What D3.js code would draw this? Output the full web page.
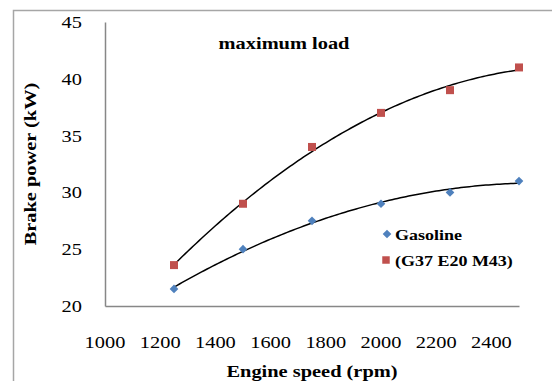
<!DOCTYPE html>
<html>
<head>
<meta charset="utf-8">
<script src="https://cdn.jsdelivr.net/npm/d3@7"></script>
<style>
  body { margin: 0; background: #fff; }
  text { font-family: "Liberation Serif", "Times New Roman", serif; fill: #000; }
</style>
</head>
<body>
<script>
// engine speed (rpm) for both series
var speeds = [1250, 1500, 1750, 2000, 2250, 2500];
// brake power (kW)
var gasoline = [21.5, 25, 27.5, 29, 30, 31];
var blend = [23.6, 29, 34, 37, 39, 41];
var seriesNames = ["Gasoline", "(G37 E20 M43)"];
var xTicks = [1000, 1200, 1400, 1600, 1800, 2000, 2200, 2400];
var yTicks = [20, 25, 30, 35, 40, 45];

var w = 552, h = 381;
var stretch = 1.2; // text in the picture is a bit wide

var svg = d3.select("body").append("svg")
    .attr("width", w)
    .attr("height", h);

// outer frame (only left and top visible)
svg.append("path")
    .attr("d", "M13.5," + h + "V10.5H" + w)
    .attr("fill", "none")
    .attr("stroke", "#a6a6a6")
    .attr("stroke-width", 1.5);

var x = d3.scaleLinear().domain([1000, 2500]).range([105, 519]);
var y = d3.scaleLinear().domain([20, 45]).range([306, 22]);

//helper for stretched text
function label(txt, px, py, opts) {
    opts = opts || {};
    var t = svg.append("text")
        .attr("transform", "translate(" + px + "," + py + ")" + (opts.rotate ? " rotate(-90)" : "") + " scale(" + stretch + ",1)")
        .attr("text-anchor", opts.anchor || "middle")
        .attr("font-size", opts.size || 17)
        .attr("font-weight", opts.bold ? "bold" : "normal")
        .text(txt);
    return t;
}

// axes
var axisColor = "#878787";
var yAxis = svg.append("g")
    .attr("transform", "translate(" + x(1000) + ",0)")
    .call(d3.axisLeft(y).tickValues(yTicks).tickSize(0).tickFormat(""));
var xAxis = svg.append("g")
    .attr("transform", "translate(0," + y(20) + ")")
    .call(d3.axisBottom(x).tickValues(xTicks).tickSize(0).tickFormat(""));
svg.selectAll(".domain")
    .attr("stroke", axisColor)
    .attr("stroke-width", 1.5);

yTicks.forEach(function(v) {
    label(v, x(1000) - 23, y(v) + 6, {anchor: "end"});
});
xTicks.forEach(function(v) {
    label(v, x(v), 348);
});

// axis titles
label("Engine speed (rpm)", 312, 377, {bold: true, size: 17});
label("Brake power (kW)", 36, 164, {bold: true, size: 17, rotate: true});
label("maximum load", 284, 49, {bold: true, size: 17});

// quadratic least-squares trendline like the spreadsheet one
function quadFit(xs, ys) {
    var n = xs.length, s = [0, 0, 0, 0, 0], t = [0, 0, 0];
    for (var i = 0; i < n; i++) {
        var xv = (xs[i] - 1875) / 1000;
        for (var k = 0; k < 5; k++) s[k] += Math.pow(xv, k);
        for (var k2 = 0; k2 < 3; k2++) t[k2] += ys[i] * Math.pow(xv, k2);
    }
    var M = [[s[0], s[1], s[2], t[0]], [s[1], s[2], s[3], t[1]], [s[2], s[3], s[4], t[2]]];
    for (var c = 0; c < 3; c++) {
        for (var r = c + 1; r < 3; r++) {
            var f = M[r][c] / M[c][c];
            for (var j = c; j < 4; j++) M[r][j] -= f * M[c][j];
        }
    }
    var b = [0, 0, 0];
    for (var r2 = 2; r2 >= 0; r2--) {
        var sum = M[r2][3];
        for (var j2 = r2 + 1; j2 < 3; j2++) sum -= M[r2][j2] * b[j2];
        b[r2] = sum / M[r2][r2];
    }
    return function(xx) { var u = (xx - 1875) / 1000; return b[0] + b[1] * u + b[2] * u * u; };
}

var line = d3.line().x(function(d) { return x(d[0]); }).y(function(d) { return y(d[1]); });
[gasoline, blend].forEach(function(vals) {
    var fit = quadFit(speeds, vals);
    var pts = d3.range(1250, 2501, 10).map(function(s) { return [s, fit(s)]; });
    svg.append("path")
        .attr("d", line(pts))
        .attr("fill", "none")
        .attr("stroke", "#000")
        .attr("stroke-width", 1.5);
});

// markers
var diamond = d3.symbol().type(d3.symbolDiamond2).size(48);
var square = d3.symbol().type(d3.symbolSquare).size(64);
svg.selectAll(".gas")
    .data(speeds).enter().append("path")
    .attr("class", "gas")
    .attr("d", diamond)
    .attr("transform", function(d, i) { return "translate(" + x(d) + "," + y(gasoline[i]) + ")"; })
    .attr("fill", "#4f81bd");
svg.selectAll(".blend")
    .data(speeds).enter().append("path")
    .attr("class", "blend")
    .attr("d", square)
    .attr("transform", function(d, i) { return "translate(" + x(d) + "," + y(blend[i]) + ")"; })
    .attr("fill", "#c0504d");

// legend
svg.append("path").attr("d", diamond).attr("transform", "translate(387,234)").attr("fill", "#4f81bd");
svg.append("path").attr("d", d3.symbol().type(d3.symbolSquare).size(56)).attr("transform", "translate(386,260)").attr("fill", "#c0504d");
label(seriesNames[0], 395, 240, {anchor: "start", bold: true, size: 15});
label(seriesNames[1], 395, 266, {anchor: "start", bold: true, size: 15});
</script>
</body>
</html>
